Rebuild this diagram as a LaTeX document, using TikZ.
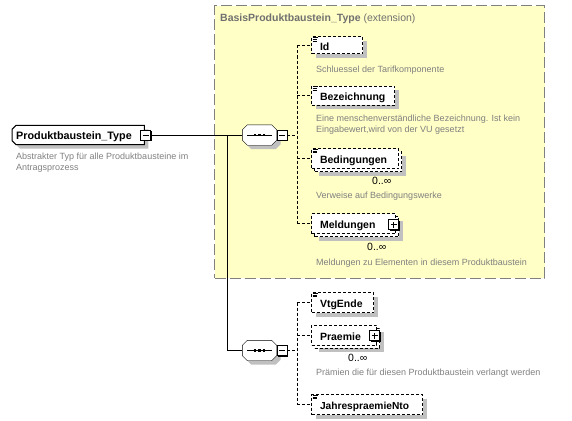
\documentclass[tikz,border=0pt]{standalone}
\usepackage{fontspec}
\setmainfont{Liberation Sans}
\usetikzlibrary{shadows}
\definecolor{yfill}{RGB}{255,255,198}
\definecolor{framegray}{RGB}{128,128,128}
\definecolor{shadowgray}{RGB}{192,192,192}
\definecolor{descgray}{RGB}{128,128,128}
\definecolor{titlegray}{RGB}{112,112,112}
\newcommand\octpath[3]{([shift={(5+#2,#3)}]#1.north west) -- ([shift={(-5+#2,#3)}]#1.north east) -- ([shift={(#2,5+#3)}]#1.north east) -- ([shift={(#2,-5+#3)}]#1.south east) -- ([shift={(-5+#2,#3)}]#1.south east) -- ([shift={(5+#2,#3)}]#1.south west) -- ([shift={(#2,-5+#3)}]#1.south west) -- ([shift={(#2,5+#3)}]#1.north west) -- cycle}
\newcommand\champath[3]{([shift={(4+#2,#3)}]#1.north west) -- ([shift={(#2,#3)}]#1.north east) -- ([shift={(#2,#3)}]#1.south east) -- ([shift={(4+#2,#3)}]#1.south west) -- ([shift={(#2,-4+#3)}]#1.south west) -- ([shift={(#2,4+#3)}]#1.north west) -- cycle}
\newcommand\seqbody[1]{%
  \fill[shadowgray] \octpath{#1}{4}{4};
  \draw[fill=white] \octpath{#1}{0}{0};
  \draw ([xshift=-12.5pt]#1.center) -- ([xshift=12.5pt]#1.center);
  \foreach \dx in {-4.5,0,4.5} {\fill ([xshift=\dx pt]#1.center) +(-1.3,-1.3) rectangle +(1.3,1.3);}
}
\newcommand\simpicon[1]{\draw[line width=0.7pt] ([shift={(1.5,1.3)}]#1.north west) -- ++(5.5,0) ([shift={(1.5,3)}]#1.north west) -- ++(4.5,0) ([shift={(1.5,4.7)}]#1.north west) -- ++(4.5,0);}
\newcommand\minussign[1]{\draw[line width=0.8pt] ([xshift=-3pt]#1.center) -- ([xshift=3pt]#1.center);}
\newcommand\plussign[1]{\draw[line width=0.8pt] ([xshift=-3pt]#1.center) -- ([xshift=3pt]#1.center) ([yshift=-3pt]#1.center) -- ([yshift=3pt]#1.center);}
\begin{document}
\begin{tikzpicture}[x=1pt,y=-1pt,
  every node/.style={inner sep=0pt},
  conn/.style={line width=1pt},
  dconn/.style={line width=1pt, dash pattern=on 3pt off 2pt},
  extbox/.style={draw=framegray, fill=yfill, line width=1pt, dash pattern=on 11pt off 4pt, anchor=north west, minimum width=330pt, minimum height=272pt},
  elembase/.style={draw, line width=1pt, dash pattern=on 3pt off 2pt, fill=white, anchor=west, inner xsep=8.5pt, inner ysep=0pt, text height=10.6pt, text depth=0pt, minimum height=19pt, font=\fontsize{10.5}{12}\selectfont\bfseries},
  single/.style={elembase, drop shadow={shadow xshift=4pt, shadow yshift=-4pt, fill=shadowgray, opacity=1}},
  multi/.style={elembase, minimum height=20pt, drop shadow={shadow xshift=7pt, shadow yshift=-7pt, fill=shadowgray, opacity=1}, copy shadow={shadow xshift=3pt, shadow yshift=-3pt, dash pattern=on 3pt off 2pt, line width=1pt}},
  mainel/.style={anchor=west, inner xsep=4pt, inner ysep=0pt, text height=9pt, text depth=0pt, minimum height=19pt, font=\fontsize{10.8}{12}\selectfont\bfseries},
  seqshape/.style={minimum width=34pt, minimum height=20pt},
  pmbox/.style={draw, line width=0.8pt, fill=white, minimum size=10pt, drop shadow={shadow xshift=1pt, shadow yshift=-1pt, fill=black, opacity=1}},
  desc/.style={anchor=base west, text=descgray, font=\fontsize{9}{11}\selectfont},
  occ/.style={anchor=base west, font=\fontsize{10.5}{12}\selectfont},
  ttl/.style={anchor=base west, text=titlegray, font=\fontsize{10.5}{12}\selectfont}
]
\useasboundingbox (0,0) rectangle (572,420);

% extension frame
\node[extbox] (ext) at (214,5.5) {};
\node[ttl] (title) at (220,21.5) {\textbf{BasisProduktbaustein\_Type} (extension)};

% main element
\node[mainel] (ptype) at (12,135) {\makebox[124pt][l]{\phantom{Produktbaustein\_Type}}};
\fill[shadowgray] \champath{ptype}{4}{4};
\draw[line width=1pt, fill=white] \champath{ptype}{0}{0};
\node[mainel] (ptypetext) at (12,135) {\makebox[124pt][l]{Produktbaustein\_Type}};
\node[desc] (pdesc1) at (16,159) {Abstrakter Typ für alle Produktbausteine im};
\node[desc] (pdesc2) at (16,170) {Antragsprozess};
\node[pmbox] (pminus) at (145.5,135) {};
\minussign{pminus}

% sequence compositors
\node[seqshape] (seqa) at (259.5,135) {};
\seqbody{seqa}
\node[pmbox] (ma) at (282,135) {};
\minussign{ma}
\node[seqshape] (seqb) at (259.5,350.5) {};
\seqbody{seqb}
\node[pmbox] (mb) at (282,350.5) {};
\minussign{mb}

\coordinate (ja) at (227,135);
\coordinate (ta) at (297,135);
\coordinate (tb) at (297,350.5);

% children of first sequence
\node[single, minimum height=17pt] (id) at (311,45.5) {\makebox[34pt][l]{Id}};
\simpicon{id}
\node[desc] (iddesc) at (316,72) {Schluessel der Tarifkomponente};

\node[single] (bez) at (311,95.5) {\makebox[66pt][l]{Bezeichnung}};
\simpicon{bez}
\node[desc] (bezdesc1) at (316,121.5) {Eine menschenverständliche Bezeichnung. Ist kein};
\node[desc] (bezdesc2) at (316,132.5) {Eingabewert,wird von der VU gesetzt};

\node[multi] (bed) at (311,158.5) {\makebox[70pt][l]{Bedingungen}};
\simpicon{bed}
\node[occ] (bedocc) at (372,184) {0..∞};
\node[desc] (beddesc) at (316,198.5) {Verweise auf Bedingungswerke};

\node[multi] (meld) at (311,223.5) {\makebox[67pt][l]{Meldungen}};
\node[pmbox] (pmeld) at (393.5,224.5) {};
\plussign{pmeld}
\node[occ] (meldocc) at (367,250) {0..∞};
\node[desc] (melddesc) at (316,265) {Meldungen zu Elementen in diesem Produktbaustein};

% children of second sequence
\node[single, minimum height=20pt] (vtg) at (311,302.5) {\makebox[45pt][l]{VtgEnde}};
\simpicon{vtg}

\node[multi] (prae) at (311,335) {\makebox[48pt][l]{Praemie}};
\node[pmbox] (pprae) at (374.5,335.5) {};
\plussign{pprae}
\node[occ] (praeocc) at (348,361.5) {0..∞};
\node[desc] (praedesc) at (316,375) {Prämien die für diesen Produktbaustein verlangt werden};

\node[single, minimum height=20pt, font=\fontsize{10.2}{12}\selectfont\bfseries] (jahr) at (311,404.5) {\makebox[94pt][l]{JahrespraemieNto}};
\simpicon{jahr}

% connectors
\draw[conn] (pminus.east) -- (seqa.west);
\draw[conn] (ja) |- (seqb.west);
\draw[dconn] (ma.east) -- (ta);
\draw[dconn] (mb.east) -- (tb);
\draw[dconn] (ta |- id.west) -- (ta |- meld.west);
\draw[dconn] (tb |- vtg.west) -- (tb |- jahr.west);
\foreach \c in {id,bez,bed,meld} {\draw[dconn] (ta |- \c.west) -- (\c.west);}
\foreach \c in {vtg,prae,jahr} {\draw[dconn] (tb |- \c.west) -- (\c.west);}
\end{tikzpicture}
\end{document}
